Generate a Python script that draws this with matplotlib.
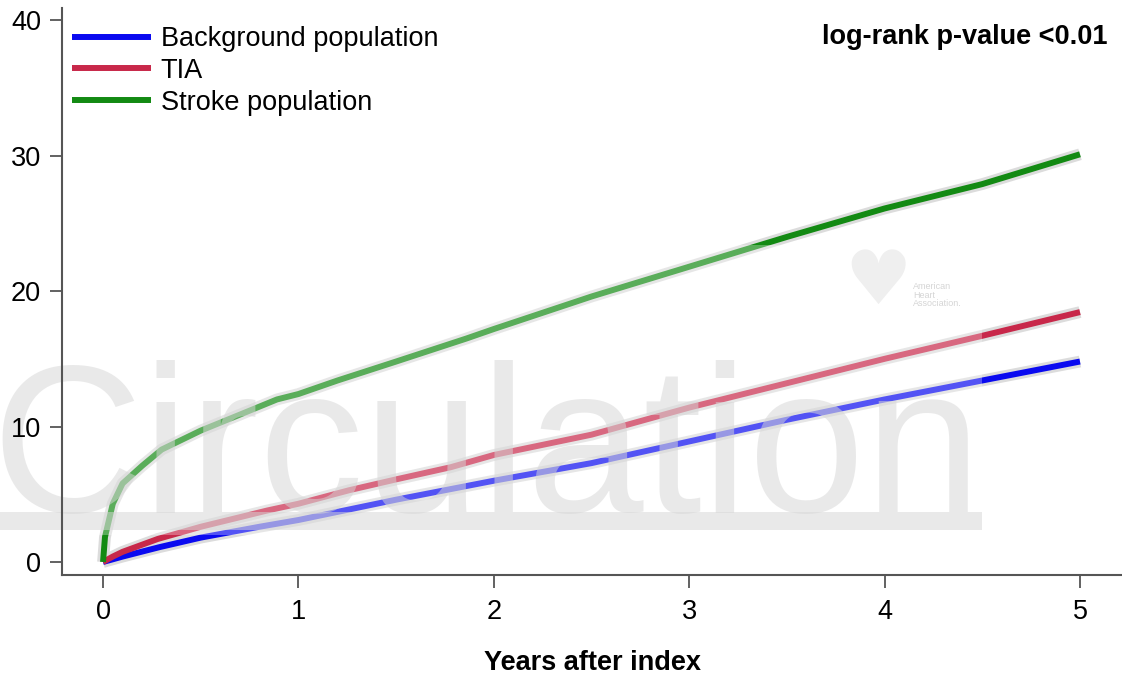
import numpy as np
import matplotlib.pyplot as plt
from matplotlib.patches import Rectangle

plt.rcParams['font.family'] = ['Liberation Sans', 'DejaVu Sans']

# curvas (años, % acumulado)
t_bg = [0, 0.1, 0.29, 0.5, 0.8, 1.0, 1.5, 2.0, 2.5, 3.0, 3.5, 4.0, 4.5, 5.0]
v_bg = [0, 0.4, 1.1, 1.8, 2.6, 3.1, 4.6, 6.0, 7.3, 8.9, 10.5, 12.0, 13.4, 14.8]

t_tia = [0, 0.05, 0.1, 0.28, 0.5, 0.84, 1.0, 1.26, 1.5, 1.78, 2.0, 2.5, 3.0, 3.5, 4.0, 4.5, 5.0]
v_tia = [0, 0.4, 0.75, 1.7, 2.6, 3.8, 4.3, 5.3, 6.1, 7.0, 7.9, 9.4, 11.4, 13.2, 15.0, 16.7, 18.45]

t_stroke = [0, 0.01, 0.05, 0.1, 0.2, 0.3, 0.5, 0.67, 0.89, 1.0, 1.2, 1.5, 1.86, 2.0, 2.5,
            3.0, 3.5, 4.0, 4.5, 5.0]
v_stroke = [0, 1.85, 4.3, 5.8, 7.1, 8.3, 9.7, 10.7, 12.0, 12.4, 13.4, 14.8, 16.5, 17.2, 19.6,
            21.8, 24.0, 26.1, 27.9, 30.1]

labels = ["Background population", "TIA", "Stroke population"]
colores = ['#0a0af0', '#c8284a', '#138a13']
xticks = [0, 1, 2, 3, 4, 5]
yticks = [0, 10, 20, 30, 40]

W, H = 1122, 675
fig = plt.figure(figsize=(W / 100, H / 100), dpi=100)
ax = fig.add_axes([62 / W, 1 - 575 / H, 1 - 62 / W, (575 - 8) / H])
ax.set_axisbelow(False)  # ejes por encima de la marca de agua

series = [(t_bg, v_bg), (t_tia, v_tia), (t_stroke, v_stroke)]
for (t, v), c, lab in zip(series, colores, labels):
    ax.plot(t, v, color='#dcdcdc', lw=8.5, solid_capstyle='butt', zorder=1.5)
for (t, v), c, lab in zip(series, colores, labels):
    ax.plot(t, v, color=c, lw=4.3, label=lab, solid_capstyle='butt', zorder=2)

ax.set_xlim(-0.21, 5.215)
ax.set_ylim(-0.96, 40.9)
ax.set_xticks(xticks)
ax.set_yticks(yticks)
for s in ['top', 'right']:
    ax.spines[s].set_visible(False)
for s in ['left', 'bottom']:
    ax.spines[s].set_color('#555555')
    ax.spines[s].set_linewidth(1.5)
ax.tick_params(axis='x', length=9, width=1.3, color='#555555', pad=8, labelsize=19.5)
ax.tick_params(axis='y', length=9, width=1.3, color='#555555', pad=6, labelsize=19.5)
ax.set_xlabel("Years after index", fontsize=19.5, fontweight='bold', labelpad=18)

leg = ax.legend(loc='upper left', bbox_to_anchor=(72 / W, 1 - 26 / H),
                bbox_transform=fig.transFigure, frameon=False, fontsize=19.5,
                handlelength=2.9, handletextpad=0.37, labelspacing=0.22,
                borderpad=0, borderaxespad=0)

fig.text(1108 / W, 1 - 37 / H, "log-rank p-value <0.01", ha='right', va='center',
         fontsize=19.5, fontweight='bold')

# marca de agua (encima de las curvas, debajo de los ejes)
tf = fig.transFigure
ax.add_patch(Rectangle((0, 1 - 535 / H), 982 / W, (535 - 245) / H, transform=tf,
                       facecolor='white', alpha=0.3, edgecolor='none',
                       zorder=2.2, clip_on=False))
ax.text(-9 / W, 1 - 512 / H, "Circulation", transform=tf, ha='left', va='baseline',
        fontsize=151, color='#d6d6d6', alpha=0.52, zorder=2.3, clip_on=False)
ax.add_patch(Rectangle((0, 1 - 530 / H), 982 / W, 18 / H, transform=tf,
                       facecolor='#d6d6d6', alpha=0.52, edgecolor='none',
                       zorder=2.3, clip_on=False))
ax.text(878 / W, 1 - 284 / H, "\u2665", transform=tf, ha='center', va='center',
        fontsize=54, color='#efefef', family='DejaVu Sans', zorder=2.3, clip_on=False)
ax.text(913 / W, 1 - 295 / H, "American\nHeart\nAssociation.", transform=tf,
        ha='left', va='center', fontsize=6.5, color='#d5d5d5', linespacing=0.95,
        zorder=2.3, clip_on=False)

fig.savefig('out.png', dpi=100)
